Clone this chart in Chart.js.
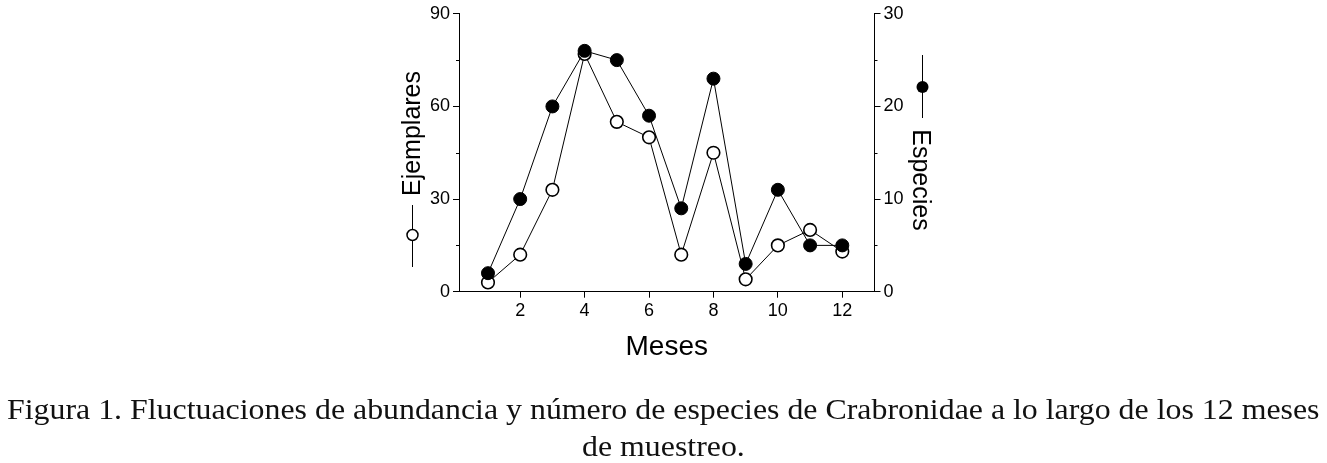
<!DOCTYPE html>
<html>
<head>
<meta charset="utf-8">
<script src="https://cdn.jsdelivr.net/npm/chart.js@4/dist/chart.umd.min.js"></script>
<style>
html, body { margin: 0; background: #fff; overflow: hidden; }
#wrap { position: relative; width: 1327px; height: 463px; overflow: hidden; }
.cap {
    position: absolute; white-space: nowrap; color: #111;
    font-family: "Liberation Serif", "Times New Roman", serif;
    font-size: 29px; line-height: 37px; transform-origin: 0 0;
}
#line1 { left: 7px; top: 391px; }
#line2 { top: 428px; }
</style>
</head>
<body>
<div id="wrap">
    <canvas id="chart" width="1327" height="463"></canvas>
    <div class="cap" id="line1">Figura 1. Fluctuaciones de abundancia y número de especies de Crabronidae a lo largo de los 12 meses</div>
    <div class="cap" id="line2">de muestreo.</div>
</div>
<script>
// data
var months = [1, 2, 3, 4, 5, 6, 7, 8, 9, 10, 11, 12];
var ejemplares = [3, 12, 33, 77, 55, 50, 12, 45, 4, 15, 20, 13];
var especies = [2, 10, 20, 26, 25, 19, 9, 23, 3, 11, 5, 5];

// ticks
var xTicks = [2, 4, 6, 8, 10, 12];
var leftTicks = [0, 30, 60, 90];
var leftMinor = [15, 45, 75];
var rightTicks = [0, 10, 20, 30];
var rightMinor = [5, 15, 25];

var sans = '"Liberation Sans", Arial, sans-serif';

// caption: first line runs from x=7 to x=1320 in the original, second line is centred
function fitCaption() {
    var l1 = document.getElementById('line1');
    var l2 = document.getElementById('line2');
    var k = 1313 / l1.offsetWidth;
    l1.style.transform = 'scaleX(' + k + ')';
    l2.style.left = (663.5 - l2.offsetWidth * k / 2) + 'px';
    l2.style.transform = 'scaleX(' + k + ')';
}
fitCaption();
if (document.fonts && document.fonts.ready) document.fonts.ready.then(fitCaption);

function toPoints(ys) {
    return months.map(function (m, i) { return { x: m, y: ys[i] }; });
}

// minor ticks + axis titles with their series symbol
var decorations = {
    id: 'decorations',
    afterDraw: function (chart) {
        var ctx = chart.ctx;
        var area = chart.chartArea;
        var yl = chart.scales.y, yr = chart.scales.y1;
        ctx.save();
        ctx.strokeStyle = '#000';
        ctx.lineWidth = 1;
        ctx.beginPath();
        leftMinor.forEach(function (v) {
            var p = Math.round(yl.getPixelForValue(v)) + 0.5;
            ctx.moveTo(area.left - 3, p); ctx.lineTo(area.left, p);
        });
        rightMinor.forEach(function (v) {
            var p = Math.round(yr.getPixelForValue(v)) + 0.5;
            ctx.moveTo(area.right, p); ctx.lineTo(area.right + 3, p);
        });
        ctx.stroke();

        ctx.fillStyle = '#000';
        ctx.font = '25px ' + sans;
        ctx.textAlign = 'center';
        ctx.textBaseline = 'alphabetic';

        // left title
        ctx.save();
        ctx.translate(420, 133.5);
        ctx.rotate(-Math.PI / 2);
        ctx.fillText('Ejemplares', 0, 0);
        ctx.restore();
        ctx.beginPath();
        ctx.moveTo(412.5, 205); ctx.lineTo(412.5, 267);
        ctx.stroke();
        ctx.beginPath();
        ctx.arc(412.5, 235, 5.5, 0, Math.PI * 2);
        ctx.fillStyle = '#fff';
        ctx.fill();
        ctx.lineWidth = 1.5;
        ctx.stroke();

        // right title
        ctx.fillStyle = '#000';
        ctx.save();
        ctx.translate(913, 180);
        ctx.rotate(Math.PI / 2);
        ctx.fillText('Especies', 0, 0);
        ctx.restore();
        ctx.lineWidth = 1;
        ctx.beginPath();
        ctx.moveTo(922.5, 55); ctx.lineTo(922.5, 118);
        ctx.stroke();
        ctx.beginPath();
        ctx.arc(922.5, 87, 6, 0, Math.PI * 2);
        ctx.fill();

        // x title
        ctx.font = '28px ' + sans;
        ctx.fillText('Meses', (area.left + area.right) / 2, 354.5);
        ctx.restore();
    }
};

var axisGrid = { drawOnChartArea: false, drawTicks: true, tickLength: 6, tickColor: '#000', color: '#000' };
var axisBorder = { display: true, color: '#000', width: 1 };
var tickFont = { family: sans, size: 18 };

new Chart(document.getElementById('chart'), {
    type: 'line',
    data: {
        datasets: [{
            label: 'Especies',
            data: toPoints(especies),
            yAxisID: 'y1',
            borderColor: '#000',
            borderWidth: 1,
            pointRadius: 6.5,
            pointBorderWidth: 1,
            pointBackgroundColor: '#000',
            pointBorderColor: '#000',
            tension: 0
        }, {
            label: 'Ejemplares',
            data: toPoints(ejemplares),
            yAxisID: 'y',
            borderColor: '#000',
            borderWidth: 1,
            pointRadius: 6.3,
            pointBorderWidth: 1.6,
            pointBackgroundColor: '#fff',
            pointBorderColor: '#000',
            tension: 0
        }]
    },
    options: {
        responsive: false,
        animation: false,
        devicePixelRatio: 1,
        layout: { padding: { left: 414, right: 407.5, top: 13.3, bottom: 131.3 } },
        plugins: { legend: { display: false }, tooltip: { enabled: false } },
        scales: {
            x: {
                type: 'linear',
                min: 0.1,
                max: 13,
                grid: axisGrid,
                border: axisBorder,
                afterBuildTicks: function (s) { s.ticks = xTicks.map(function (v) { return { value: v }; }); },
                afterFit: function (s) { s.height = 40; },
                ticks: { color: '#000', font: tickFont, padding: 3, maxRotation: 0, autoSkip: false }
            },
            y: {
                position: 'left',
                min: 0,
                max: 90,
                grid: axisGrid,
                border: axisBorder,
                afterBuildTicks: function (s) { s.ticks = leftTicks.map(function (v) { return { value: v }; }); },
                afterFit: function (s) { s.width = 45; },
                ticks: { color: '#000', font: tickFont, padding: 3 }
            },
            y1: {
                position: 'right',
                min: 0,
                max: 30,
                grid: axisGrid,
                border: axisBorder,
                afterBuildTicks: function (s) { s.ticks = rightTicks.map(function (v) { return { value: v }; }); },
                afterFit: function (s) { s.width = 45; },
                ticks: { color: '#000', font: tickFont, padding: 3 }
            }
        }
    },
    plugins: [decorations]
});
</script>
</body>
</html>
